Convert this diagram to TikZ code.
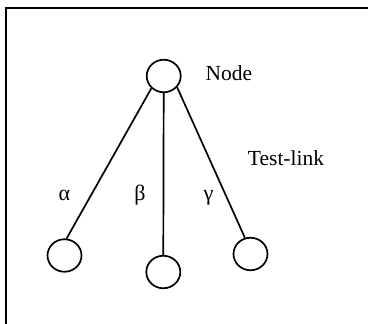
\documentclass[tikz,border=0pt]{standalone}
\usepackage{fontspec}
\setmainfont{Liberation Serif}
\usetikzlibrary{shapes.geometric}
\begin{document}
\begin{tikzpicture}[x=1bp,y=-1bp,
  vertex/.style={draw,ellipse,line width=1.7bp,inner sep=0pt,
    minimum width=34bp,minimum height=32.5bp},
  edge/.style={line width=1.7bp},
  lbl/.style={inner sep=0pt,anchor=base,font=\fontsize{21.5bp}{25bp}\selectfont},
  greek/.style={lbl,font=\fontsize{22bp}{26bp}\selectfont}]
\useasboundingbox (0,0) rectangle (368,324);
% frame, running off the right and bottom edges
\begin{scope}
  \clip (0,0) rectangle (368,324);
  \draw[line width=2bp] (6,8) rectangle (380,340);
\end{scope}
% vertices
\node[vertex] (root) at (163.7,76) {};
\node[vertex] (left) at (64.5,255.5) {};
\node[vertex] (mid) at (163.3,272) {};
\node[vertex] (right) at (250.5,254) {};
% links
\draw[edge] (root.225) -- (left.83);
\draw[edge] (root.south) -- (mid.north);
\draw[edge] (root.320) -- (right.109);
% labels
\node[lbl] (nodetext) at (229,80) {Node};
\node[lbl] (testlink) at (286,165) {Test-link};
\node[greek] (alpha) at (64.5,200) {α};
\node[greek] (beta) at (140,200) {β};
\node[greek] (gamma) at (208.5,200) {γ};
\end{tikzpicture}
\end{document}
